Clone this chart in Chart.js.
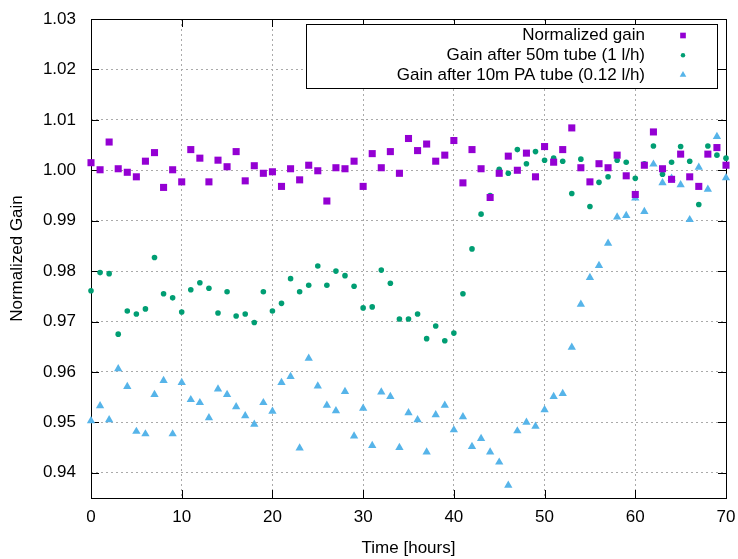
<!DOCTYPE html>
<html>
<head>
<meta charset="utf-8">
<script src="https://cdn.jsdelivr.net/npm/chart.js@4/dist/chart.umd.min.js"></script>
<style>
  body { margin: 0; background: #fff; }
  #wrap { width: 738px; height: 559px; }
</style>
</head>
<body>
<div id="wrap"><canvas id="myChart" width="738" height="559"></canvas></div>
<script>
// ========== data
const hours = [0, 1, 2, 3, 4, 5, 6, 7, 8, 9, 10, 11, 12, 13, 14, 15, 16, 17, 18, 19,
  20, 21, 22, 23, 24, 25, 26, 27, 28, 29, 30, 31, 32, 33, 34, 35, 36, 37, 38, 39,
  40, 41, 42, 43, 44, 45, 46, 47, 48, 49, 50, 51, 52, 53, 54, 55, 56, 57, 58, 59,
  60, 61, 62, 63, 64, 65, 66, 67, 68, 69, 70]

const normGain = [
  1.0015, 1.0001, 1.0056, 1.0003, 0.9996, 0.9987, 1.0018, 1.0035, 0.9966, 1.0001,
  0.9977, 1.0041, 1.0024, 0.9977, 1.0020, 1.0007, 1.0037, 0.9979, 1.0009, 0.9994,
  0.9997, 0.9968, 1.0003, 0.9981, 1.0010, 0.9999, 0.9939, 1.0005, 1.0003, 1.0018,
  0.9968, 1.0033, 1.0005, 1.0037, 0.9994, 1.0063, 1.0039, 1.0052, 1.0018, 1.0030,
  1.0059, 0.9975, 1.0041, 1.0003, 0.9946, 0.9994, 1.0028, 1.0000, 1.0034, 0.9987,
  1.0047, 1.0016, 1.0041, 1.0084, 1.0005, 0.9977, 1.0013, 1.0005, 1.0030, 0.9989,
  0.9952, 1.0010, 1.0076, 1.0003, 0.9982, 1.0032, 0.9987, 0.9968, 1.0032, 1.0045, 1.0010]

const gain50m = [
  0.9761, 0.9797, 0.9795, 0.9675, 0.9721, 0.9715, 0.9725, 0.9827, 0.9755, 0.9747,
  0.9719, 0.9763, 0.9777, 0.9766, 0.9717, 0.9759, 0.9711, 0.9715, 0.9698, 0.9759,
  0.9721, 0.9736, 0.9785, 0.9759, 0.9772, 0.9810, 0.9772, 0.9800, 0.9791, 0.9770,
  0.9727, 0.9729, 0.9802, 0.9776, 0.9705, 0.9705, 0.9715, 0.9666, 0.9691, 0.9662,
  0.9677, 0.9755, 0.9844, 0.9913, 0.9950, 1.0002, 0.9994, 1.0041, 1.0013, 1.0037,
  1.0020, 1.0024, 1.0018, 0.9954, 1.0022, 0.9928, 0.9976, 0.9987, 1.0020, 1.0016,
  0.9984, 1.0013, 1.0048, 0.9992, 1.0016, 1.0047, 1.0018, 0.9932, 1.0048, 1.0030, 1.0024]

const gainPA = [
  0.9503, 0.9533, 0.9505, 0.9606, 0.9571, 0.9482, 0.9477, 0.9555, 0.9583, 0.9477,
  0.9579, 0.9545, 0.9539, 0.9509, 0.9566, 0.9555, 0.9531, 0.9513, 0.9496, 0.9539,
  0.9522, 0.9579, 0.9591, 0.9449, 0.9627, 0.9572, 0.9534, 0.9523, 0.9561, 0.9473,
  0.9528, 0.9454, 0.9560, 0.9551, 0.9450, 0.9519, 0.9505, 0.9441, 0.9515, 0.9534,
  0.9485, 0.9511, 0.9452, 0.9468, 0.9441, 0.9421, 0.9375, 0.9483, 0.9500, 0.9492,
  0.9525, 0.9551, 0.9557, 0.9649, 0.9734, 0.9787, 0.9811, 0.9855, 0.9907, 0.9910,
  0.9945, 0.9918, 1.0012, 0.9975, 0.9984, 0.9971, 0.9902, 1.0006, 0.9962, 1.0067, 0.9985]

const xTicks = [0, 10, 20, 30, 40, 50, 60, 70]
const yTicks = [0.94, 0.95, 0.96, 0.97, 0.98, 0.99, 1.00, 1.01, 1.02, 1.03]

const seriesNames = ['Normalized gain', 'Gain after 50m tube (1 l/h)', 'Gain after 10m PA tube (0.12 l/h)']
const seriesColors = ['#9400d3', '#009e73', '#56b4e9']
const seriesStyles = ['rect', 'circle', 'triangle']
const seriesRadius = [5, 2.8, 4.8]

const FONT = '"Liberation Sans", Arial, sans-serif'
const FSIZE = 17


// ========== helpers

function toPoints(vals){
	return hours.map((h, i) => ({ x: h, y: vals[i] }));
}

// plot box in scale coordinates
function plotBox(chart){
	const xs = chart.scales.x, ys = chart.scales.y;
	return {
		left: xs.getPixelForValue(xs.min), right: xs.getPixelForValue(xs.max),
		top: ys.getPixelForValue(ys.max), bottom: ys.getPixelForValue(ys.min)
	};
}

// gnuplot style box with inward ticks, drawn under the points
const framePlugin = {
	id: 'frame',
	beforeDatasetsDraw(chart){
		const ctx = chart.ctx;
		const a = plotBox(chart);
		const xs = chart.scales.x, ys = chart.scales.y;
		ctx.save();
		ctx.strokeStyle = '#000';
		ctx.lineWidth = 1;
		ctx.strokeRect(Math.round(a.left) + 0.5, Math.round(a.top) + 0.5,
			Math.round(a.right - a.left), Math.round(a.bottom - a.top));
		ctx.beginPath();
		yTicks.forEach(v => {
			let py = Math.round(ys.getPixelForValue(v)) + 0.5;
			ctx.moveTo(a.left, py); ctx.lineTo(a.left + 8, py);
			ctx.moveTo(a.right - 8, py); ctx.lineTo(a.right, py);
		});
		xTicks.forEach(v => {
			let px = Math.round(xs.getPixelForValue(v)) + 0.5;
			ctx.moveTo(px, a.bottom); ctx.lineTo(px, a.bottom - 8);
			ctx.moveTo(px, a.top); ctx.lineTo(px, a.top + 8);
		});
		ctx.stroke();
		ctx.restore();
	}
}

// key box in the top right corner, text right aligned, sample on the right
const keyPlugin = {
	id: 'key',
	afterDatasetsDraw(chart){
		const ctx = chart.ctx;
		const a = plotBox(chart);
		const boxR = a.right - 9, boxT = a.top + 5;
		const boxW = 411, boxH = 64;
		ctx.save();
		ctx.fillStyle = '#fff';
		ctx.fillRect(boxR - boxW, boxT, boxW, boxH);
		ctx.strokeStyle = '#000';
		ctx.lineWidth = 1;
		ctx.strokeRect(Math.round(boxR - boxW) + 0.5, Math.round(boxT) + 0.5, boxW, boxH);
		ctx.font = FSIZE + 'px ' + FONT;
		ctx.textAlign = 'right';
		ctx.textBaseline = 'middle';
		seriesNames.forEach((name, i) => {
			let ty = boxT + 11.5 + i * 19.7;
			ctx.fillStyle = '#000';
			ctx.fillText(name, boxR - 72, ty);
			ctx.fillStyle = seriesColors[i];
			Chart.helpers.drawPoint(ctx, {
				pointStyle: seriesStyles[i], radius: seriesRadius[i] * 0.8, rotation: 0, borderWidth: 0
			}, boxR - 34, ty);
		});
		ctx.restore();
	}
}


// ========== setup chartjs

var ctx1 = document.getElementById('myChart').getContext('2d');
let myChart = new Chart(ctx1, {
type: 'scatter',
data: {
	datasets: [normGain, gain50m, gainPA].map((vals, i) => ({
		label: seriesNames[i],
		data: toPoints(vals),
		pointStyle: seriesStyles[i],
		pointRadius: seriesRadius[i],
		backgroundColor: seriesColors[i],
		borderColor: seriesColors[i],
		borderWidth: 0,
		clip: false
	}))
},
options: {
	responsive: false,
	animation: false,
	layout: { padding: { top: 19, right: 12, left: 0, bottom: 0 } },
	plugins: {
		legend: { display: false },
		tooltip: { enabled: false }
	},
	scales: {
		x: {
			type: 'linear',
			min: 0, max: 70,
			afterBuildTicks: s => { s.ticks = xTicks.map(v => ({ value: v })) },
			afterFit: s => { s.height = 61; s.paddingLeft = 0; s.paddingRight = 0 },
			grid: { color: '#aaa', lineWidth: 1, drawTicks: false },
			border: { display: false, dash: [2, 3] },
			ticks: { padding: 9, color: '#000', font: { family: FONT, size: FSIZE }, maxRotation: 0 },
			title: { display: true, text: 'Time [hours]', color: '#000', padding: { top: 3, bottom: 0 },
				font: { family: FONT, size: FSIZE } }
		},
		y: {
			type: 'linear',
			min: 0.935, max: 1.03,
			afterBuildTicks: s => { s.ticks = yTicks.map(v => ({ value: v })) },
			afterFit: s => { s.width = 91; s.paddingTop = 0; s.paddingBottom = 0 },
			grid: { color: '#aaa', lineWidth: 1, drawTicks: false },
			border: { display: false, dash: [2, 3] },
			ticks: { padding: 15, color: '#000', font: { family: FONT, size: FSIZE },
				callback: v => v.toFixed(2) },
			title: { display: true, text: 'Normalized Gain', color: '#000', padding: { top: 7, bottom: 0 },
				font: { family: FONT, size: FSIZE } }
		}
	}
},
plugins: [framePlugin, keyPlugin]
});
</script>
</body>
</html>
